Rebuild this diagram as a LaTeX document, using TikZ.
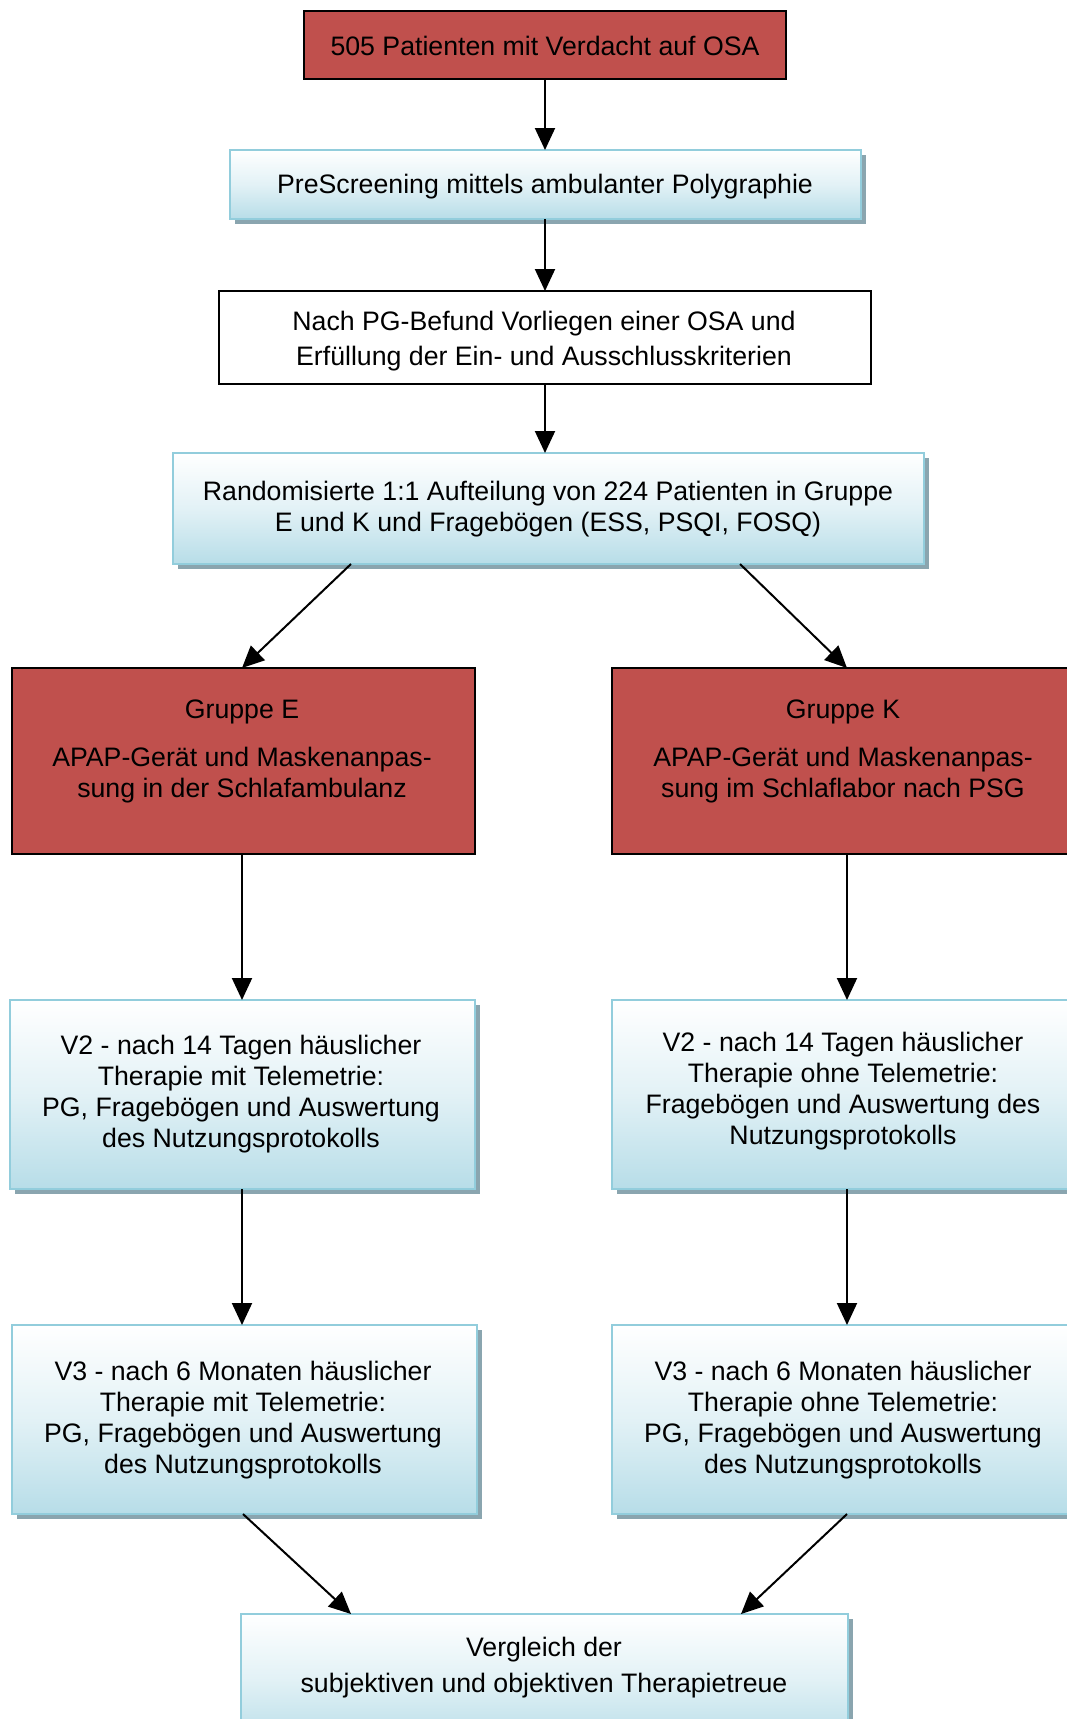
\documentclass[tikz,border=0pt]{standalone}
\usepackage{fontspec}
\setmainfont{Liberation Sans}
\usetikzlibrary{arrows.meta,shadows}
\definecolor{boxred}{RGB}{192,80,77}
\definecolor{blueedge}{RGB}{146,205,220}
\definecolor{bluefill}{RGB}{183,221,232}
\definecolor{shadowc}{RGB}{138,165,175}
\begin{document}
\begin{tikzpicture}[x=1pt,y=-1pt,
  basebox/.style={inner sep=0pt,outer sep=0pt},
  redbox/.style={basebox,fill=boxred,draw=black,line width=2pt},
  whitebox/.style={basebox,fill=white,draw=black,line width=2pt},
  bluebox/.style={basebox,draw=blueedge,line width=2.5pt,
    top color=white,bottom color=bluefill,middle color=bluefill!40!white,
    drop shadow={shadow xshift=4.5pt,shadow yshift=-4.5pt,fill=shadowc,draw=none,opacity=1}},
  txt/.style={align=center,inner sep=0pt,font=\fontsize{26.7}{31}\selectfont},
  arr/.style={line width=2pt,-{Triangle[length=22pt,width=20pt]}}]
\useasboundingbox (0,0) rectangle (1067,1719);
\clip (0,0) rectangle (1067,1719);
\fill[white] (0,0) rectangle (1067,1719);

% boxes
\node[redbox,minimum width=482pt,minimum height=68pt] (A) at (545,45) {};
\node[bluebox,minimum width=631pt,minimum height=69pt] (B) at (545.5,184.5) {};
\node[whitebox,minimum width=652pt,minimum height=93pt] (C) at (545,337.5) {};
\node[bluebox,minimum width=751pt,minimum height=111pt] (D) at (548.5,508.5) {};
\node[redbox,minimum width=463pt,minimum height=186pt] (E1) at (243.5,761) {};
\node[redbox,minimum width=468pt,minimum height=186pt] (E2) at (846,761) {};
\node[bluebox,minimum width=465pt,minimum height=189pt] (F1) at (242.5,1094.5) {};
\node[bluebox,minimum width=468pt,minimum height=189pt] (F2) at (846,1094.5) {};
\node[bluebox,minimum width=465pt,minimum height=189pt] (G1) at (244.5,1419.5) {};
\node[bluebox,minimum width=468pt,minimum height=189pt] (G2) at (846,1419.5) {};
\node[bluebox,minimum width=607pt,minimum height=130pt] (H) at (544.5,1679) {};

% texts
\node[txt] (tA) at (545,46) {505 Patienten mit Verdacht auf OSA};
\node[txt] (tB) at (545,187) {PreScreening mittels ambulanter Polygraphie};
\node[txt,font=\fontsize{26.7}{35}\selectfont] (tC) at (544,341.5) {Nach PG-Befund Vorliegen einer OSA und\\Erfüllung der Ein- und Ausschlusskriterien};
\node[txt] (tD) at (548,509.5) {Randomisierte 1:1 Aufteilung von 224 Patienten in Gruppe\\E und K und Fragebögen (ESS, PSQI, FOSQ)};
\node[txt] (tE1) at (242,751.5) {Gruppe E\\[17pt]APAP-Gerät und Maskenanpas-\\sung in der Schlafambulanz};
\node[txt] (tE2) at (843,751.5) {Gruppe K\\[17pt]APAP-Gerät und Maskenanpas-\\sung im Schlaflabor nach PSG};
\node[txt] (tF1) at (241,1094.5) {V2 - nach 14 Tagen häuslicher\\Therapie mit Telemetrie:\\PG, Fragebögen und Auswertung\\des Nutzungsprotokolls};
\node[txt] (tF2) at (843,1091) {V2 - nach 14 Tagen häuslicher\\Therapie ohne Telemetrie:\\Fragebögen und Auswertung des\\Nutzungsprotokolls};
\node[txt] (tG1) at (243,1420) {V3 - nach 6 Monaten häuslicher\\Therapie mit Telemetrie:\\PG, Fragebögen und Auswertung\\des Nutzungsprotokolls};
\node[txt] (tG2) at (843,1420) {V3 - nach 6 Monaten häuslicher\\Therapie ohne Telemetrie:\\PG, Fragebögen und Auswertung\\des Nutzungsprotokolls};
\node[txt,font=\fontsize{26.7}{36}\selectfont] (tH) at (544,1668) {Vergleich der\\subjektiven und objektiven Therapietreue};

% connectors
\draw[arr] (A.south) -- (A.south |- B.north);
\draw[arr] (B.south -| A.south) -- (C.north);
\draw[arr] (C.south) -- (C.south |- D.north);
\draw[arr] ([xshift=-197.5pt]D.south) -- ([xshift=-1.5pt]E1.north);
\draw[arr] ([xshift=191.5pt]D.south) -- ([xshift=1pt]E2.north);
\draw[arr] ([xshift=-1.5pt]E1.south) -- ([xshift=-0.5pt]F1.north);
\draw[arr] ([xshift=1pt]E2.south) -- ([xshift=1pt]F2.north);
\draw[arr] ([xshift=-0.5pt]F1.south) -- ([xshift=-2.5pt]G1.north);
\draw[arr] ([xshift=1pt]F2.south) -- ([xshift=1pt]G2.north);
\draw[arr] ([xshift=-1.5pt]G1.south) -- ([xshift=-193.5pt]H.north);
\draw[arr] ([xshift=1pt]G2.south) -- ([xshift=196.5pt]H.north);
\end{tikzpicture}
\end{document}
